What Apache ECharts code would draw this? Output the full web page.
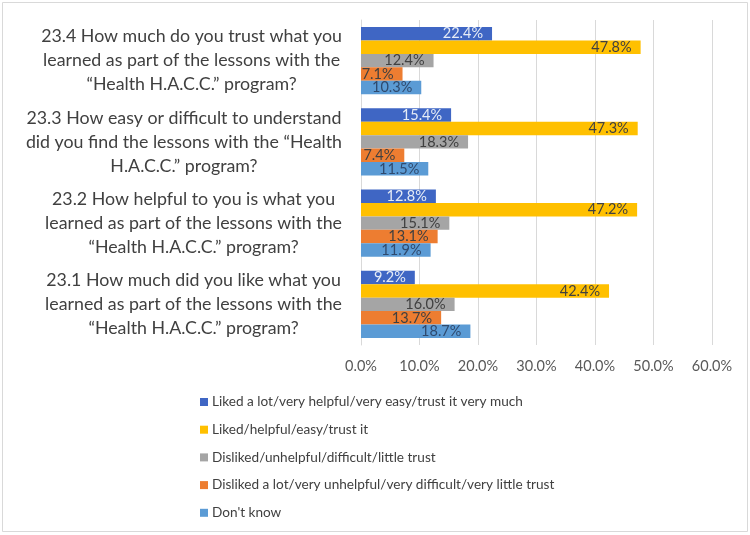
<!DOCTYPE html>
<html>
<head>
<meta charset="utf-8">
<script src="https://cdn.jsdelivr.net/npm/echarts@6/dist/echarts.min.js"></script>
<style>
html,body{margin:0;padding:0;background:#fff;}
#chart{width:750px;height:535px;}
</style>
</head>
<body>
<div id="chart"></div>
<script>
const categories = [
  '23.4 How much do you trust what you\nlearned as part of the lessons with the\n“Health H.A.C.C.” program?',
  '23.3 How easy or difficult to understand\ndid you find the lessons with the “Health\nH.A.C.C.” program?',
  '23.2 How helpful to you is what you\nlearned as part of the lessons with the\n“Health H.A.C.C.” program?',
  '23.1 How much did you like what you\nlearned as part of the lessons with the\n“Health H.A.C.C.” program?'
];
const seriesNames = [
  'Liked a lot/very helpful/very easy/trust it very much',
  'Liked/helpful/easy/trust it',
  'Disliked/unhelpful/difficult/little trust',
  'Disliked a lot/very unhelpful/very difficult/very little trust',
  "Don't know"
];
const likedALot = [22.4, 15.4, 12.8, 9.2];
const liked = [47.8, 47.3, 47.2, 42.4];
const disliked = [12.4, 18.3, 15.1, 16.0];
const dislikedALot = [7.1, 7.4, 13.1, 13.7];
const dontKnow = [10.3, 11.5, 11.9, 18.7];
const xTicks = [0, 10, 20, 30, 40, 50, 60];

const seriesData = [likedALot, liked, disliked, dislikedALot, dontKnow];
const colors = ['#3F66C4', '#FFC000', '#A5A5A5', '#ED7D31', '#5B9BD5'];
const labelColors = ['#E6ECF6', '#404040', '#404040', '#404040', '#2F4A6E'];
const FONT = 'Lato';

const chart = echarts.init(document.getElementById('chart'), null, {renderer: 'canvas'});
chart.setOption({
  backgroundColor: '#ffffff',
  animation: false,
  textStyle: {fontFamily: FONT},
  graphic: [{
    type: 'rect',
    shape: {x: 2.5, y: 2.5, width: 745, height: 529},
    style: {fill: 'none', stroke: '#D9D9D9', lineWidth: 1},
    silent: true
  }],
  grid: {left: 361, right: 38, top: 20, bottom: 190, containLabel: false},
  xAxis: {
    type: 'value',
    min: xTicks[0],
    max: xTicks[xTicks.length - 1],
    interval: 10,
    axisLine: {show: false},
    axisTick: {show: false},
    splitLine: {show: true, lineStyle: {color: '#D9D9D9', width: 1}},
    axisLabel: {
      color: '#595959', fontSize: 14.5, fontFamily: FONT, margin: 14,
      formatter: v => v.toFixed(1) + '%'
    }
  },
  yAxis: {
    type: 'category',
    inverse: true,
    data: categories,
    axisLine: {show: true, lineStyle: {color: '#D9D9D9', width: 1}},
    axisTick: {show: false},
    axisLabel: {
      align: 'right',
      margin: 19,
      formatter: v => v.split('\n').map(l => '{c|' + l + '}').join('\n'),
      rich: {
        c: {fontSize: 17.8, lineHeight: 24, color: '#404040', align: 'center', fontFamily: FONT}
      }
    }
  },
  legend: {
    orient: 'vertical',
    left: 195,
    top: 390,
    icon: 'rect',
    itemWidth: 8,
    itemHeight: 8,
    itemGap: 13.7,
    textStyle: {color: '#404040', fontSize: 13.6, lineHeight: 14, fontFamily: FONT, padding: [0, 0, 0, -1]},
    data: seriesNames
  },
  series: seriesData.map((d, i) => ({
    name: seriesNames[i],
    type: 'bar',
    data: d,
    barGap: '0%',
    barCategoryGap: '17%',
    itemStyle: {color: colors[i]},
    label: {
      show: true,
      position: 'insideRight',
      distance: 9,
      color: labelColors[i],
      fontSize: 14.5,
      fontFamily: FONT,
      formatter: p => p.value.toFixed(1) + '%'
    }
  }))
});
</script>
</body>
</html>
